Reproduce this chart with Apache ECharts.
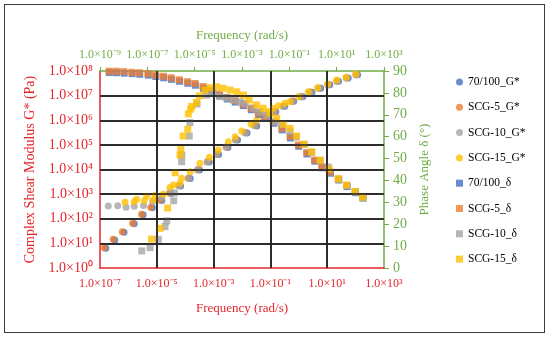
<!DOCTYPE html>
<html><head><meta charset="utf-8">
<script src="https://cdn.jsdelivr.net/npm/echarts@6/dist/echarts.min.js"></script>
<style>html,body{margin:0;padding:0;background:#fff}#wrap{position:relative;width:550px;height:340px}#c{width:550px;height:340px}#frame{position:absolute;left:4px;top:4px;width:539px;height:327px;border:1.5px solid #3c3c3c;pointer-events:none}</style>
</head><body><div id="wrap"><div id="c"></div><div id="frame"></div></div>
<script>
// ---- tick labels ----
const bottomTickExp = [-7, -5, -3, -1, 1, 3];
const bottomTickLabels = ['1.0×10⁻⁷', '1.0×10⁻⁵', '1.0×10⁻³', '1.0×10⁻¹', '1.0×10¹', '1.0×10³'];
const topTickExp = [-9, -7, -5, -3, -1, 1, 3];
const topTickLabels = ['1.0×10⁻⁹', '1.0×10⁻⁷', '1.0×10⁻⁵', '1.0×10⁻³', '1.0×10⁻¹', '1.0×10¹', '1.0×10³'];
const leftTickExp = [0, 1, 2, 3, 4, 5, 6, 7, 8];
const leftTickLabels = ['1.0×10⁰', '1.0×10¹', '1.0×10²', '1.0×10³', '1.0×10⁴', '1.0×10⁵', '1.0×10⁶', '1.0×10⁷', '1.0×10⁸'];
// gridline positions (exponents of the bottom / left axes)
const gridXExp = [-5, -3, -1, 1];
const gridYExp = [1, 2, 3, 4, 5, 6, 7];

// ---- series names ----
const seriesNames = ['70/100_G*', 'SCG-5_G*', 'SCG-10_G*', 'SCG-15_G*', '70/100_δ', 'SCG-5_δ', 'SCG-10_δ', 'SCG-15_δ'];

// ---- G* data (frequency rad/s, G* Pa) ----
const freqG_70100 = [1.6e-7, 3.3e-7, 7.0e-7, 1.6e-6, 3.3e-6, 7.0e-6, 1.5e-5, 3.2e-5, 6.9e-5, 1.5e-4, 3.2e-4, 7.0e-4, 1.5e-3, 3.2e-3, 7.0e-3, 1.5e-2, 3.3e-2, 7.1e-2, 0.155, 0.32, 0.66, 1.38, 2.9, 5.9, 12.3, 25, 55, 118];
const G_70100 = [6.4, 13.8, 28.5, 62, 145, 280, 550, 1060, 2150, 4350, 9600, 20300, 41000, 79000, 159000, 306000, 590000, 1.18e6, 2.19e6, 3.66e6, 5.85e6, 8.9e6, 1.36e7, 1.98e7, 2.75e7, 3.82e7, 5.15e7, 7.0e7];

const freqG_SCG5 = [1.4e-7, 2.9e-7, 6.1e-7, 1.4e-6, 2.9e-6, 6.1e-6, 1.3e-5, 2.8e-5, 6.0e-5, 1.3e-4, 2.8e-4, 6.1e-4, 1.3e-3, 2.8e-3, 6.1e-3, 1.3e-2, 2.9e-2, 6.2e-2, 0.135, 0.28, 0.58, 1.2, 2.5, 5.1, 10.7, 22, 48, 103];
const G_SCG5 = [6.7, 14.6, 29.8, 65, 152, 292, 577, 1110, 2240, 4520, 10000, 21100, 42600, 82000, 165000, 318000, 612000, 1.23e6, 2.27e6, 3.79e6, 6.05e6, 9.2e6, 1.40e7, 2.04e7, 2.83e7, 3.93e7, 5.3e7, 7.2e7];

const freqG_SCG10 = [1.95e-7, 4.2e-7, 8.3e-7, 1.6e-6, 3.4e-6, 7.1e-6, 1.5e-5, 3.0e-5, 6.3e-5, 1.3e-4, 2.7e-4, 5.9e-4, 1.26e-3, 2.75e-3, 5.9e-3, 1.3e-2, 2.75e-2, 6.0e-2, 0.13, 0.28, 0.58, 1.2, 2.5, 5.1, 10.7, 22, 48, 103];
const G_SCG10 = [330, 339, 292, 320, 345, 492, 743, 1160, 2140, 4310, 9550, 20200, 40600, 82000, 158000, 303000, 612000, 1.18e6, 2.16e6, 3.62e6, 5.77e6, 8.8e6, 1.34e7, 1.95e7, 2.7e7, 3.75e7, 5.06e7, 6.9e7];

const freqG_SCG15 = [7.6e-7, 1.6e-6, 1.95e-6, 3.6e-6, 4.4e-6, 7.5e-6, 8.7e-6, 1.7e-5, 2.9e-5, 3.8e-5, 6.6e-5, 7.5e-5, 1.5e-4, 3.3e-4, 7.1e-4, 1.46e-3, 3.3e-3, 5.7e-3, 9.8e-3, 2.1e-2, 3.3e-2, 5.6e-2, 8.4e-2, 0.126, 0.19, 0.32, 0.49, 0.96, 2.16, 4.6, 10.4, 21.6, 46, 103];
const G_SCG15 = [466, 492, 617, 541, 816, 577, 896, 984, 1860, 2350, 2830, 4390, 8140, 17900, 31300, 61900, 135000, 215000, 366000, 685000, 1.02e6, 1.63e6, 2.22e6, 3.06e6, 3.9e6, 4.88e6, 5.66e6, 9.04e6, 1.44e7, 2.1e7, 2.97e7, 4.31e7, 5.55e7, 7.55e7];

// ---- phase angle data (frequency rad/s on top axis, degrees) ----
const freqD_70100 = [2.5e-9, 5.0e-9, 1.05e-8, 2.3e-8, 4.8e-8, 1.1e-7, 2.3e-7, 4.9e-7, 1.05e-6, 2.3e-6, 5.1e-6, 1.07e-5, 2.35e-5, 5.1e-5, 1.12e-4, 2.45e-4, 5.2e-4, 1.15e-3, 2.5e-3, 5.1e-3, 9.7e-3, 2.2e-2, 5.0e-2, 0.112, 0.25, 0.56, 1.2, 2.45, 5.5, 12.2, 27.5, 63, 130];
const D_70100 = [89.3, 89.2, 89.0, 88.8, 88.5, 88.1, 87.5, 86.9, 86.2, 85.3, 84.4, 83.5, 82.1, 80.5, 78.8, 77.2, 75.8, 74.2, 72.3, 70.2, 68.4, 66.1, 63.1, 59.4, 55.6, 52.1, 48.8, 45.8, 43.3, 40.2, 37.2, 34.4, 31.9];

const freqD_SCG5 = [2.4e-9, 4.8e-9, 1.0e-8, 2.2e-8, 4.6e-8, 1.05e-7, 2.2e-7, 4.7e-7, 1.0e-6, 2.2e-6, 4.9e-6, 1.02e-5, 2.24e-5, 4.9e-5, 1.07e-4, 2.34e-4, 5.0e-4, 1.1e-3, 2.4e-3, 4.9e-3, 9.3e-3, 2.1e-2, 4.8e-2, 0.107, 0.24, 0.54, 1.15, 2.34, 5.25, 11.7, 26.3, 60.3, 126];
const D_SCG5 = [89.9, 89.9, 89.7, 89.4, 89.2, 88.8, 88.2, 87.6, 86.9, 86.0, 85.1, 84.3, 82.9, 81.3, 79.5, 77.9, 76.5, 74.9, 73.0, 70.9, 69.1, 66.8, 63.8, 60.1, 56.2, 52.7, 49.3, 46.3, 43.9, 40.7, 37.7, 34.9, 32.3];

const freqD_SCG10 = [5.8e-8, 1.3e-7, 2.9e-7, 5.6e-7, 6.6e-7, 1.3e-6, 1.4e-6, 2.8e-6, 2.9e-6, 5.9e-6, 6.3e-6, 1.26e-5, 3.2e-5, 6.1e-5, 1.17e-4, 2.2e-4, 4.3e-4, 8.3e-4, 1.34e-3, 3.0e-3, 5.8e-3, 1.1e-2, 2.45e-2, 4.8e-2, 0.107, 0.20, 0.42, 0.88, 2.0, 4.4, 12.2, 27, 62, 130];
const D_SCG10 = [7.8, 9.3, 13.1, 18.9, 21.5, 30.7, 34.3, 48.6, 51.6, 60.3, 66.4, 74.9, 79.0, 79.8, 78.3, 77.8, 76.8, 76.0, 75.2, 73.0, 71.4, 69.6, 66.8, 65.6, 62.3, 59.8, 56.4, 52.8, 49.1, 46.1, 40.4, 37.7, 34.7, 32.2];

const freqD_SCG15 = [1.5e-7, 3.5e-7, 7.2e-7, 1.5e-6, 2.4e-6, 2.6e-6, 3.3e-6, 5.1e-6, 5.4e-6, 6.8e-6, 7.5e-6, 1.2e-5, 1.6e-5, 2.7e-5, 4.5e-5, 8.5e-5, 1.6e-4, 3.1e-4, 6.0e-4, 1.15e-3, 2.0e-3, 4.1e-3, 7.9e-3, 1.5e-2, 2.9e-2, 5.6e-2, 0.107, 0.20, 0.42, 0.88, 2.0, 4.8, 11.7, 26, 60, 126];
const D_SCG15 = [13.2, 18.1, 27.4, 43.5, 51.6, 54.2, 60.3, 63.4, 70.4, 72.6, 73.8, 75.6, 78.6, 81.3, 82.4, 82.8, 82.1, 81.3, 80.5, 79.0, 76.8, 74.5, 73.0, 70.7, 68.5, 65.6, 63.8, 60.3, 56.6, 53.1, 49.3, 45.2, 40.7, 37.9, 34.9, 32.3];

// ---- build ----
const COLORS = ['#4472C4', '#ED7D31', '#A5A5A5', '#FFC000'];
const RED = '#E3262B', GREEN = '#70AD47';
const FONT = '"Liberation Serif", "Times New Roman", serif';
const K = '#1f1f1f', T = 'rgba(0,0,0,0)';

const gSets = [[freqG_70100, G_70100], [freqG_SCG5, G_SCG5], [freqG_SCG10, G_SCG10], [freqG_SCG15, G_SCG15]];
const dSets = [[freqD_70100, D_70100], [freqD_SCG5, D_SCG5], [freqD_SCG10, D_SCG10], [freqD_SCG15, D_SCG15]];

const series = [{
  name: 'grid', type: 'scatter', xAxisIndex: 0, yAxisIndex: 0, z: 1, silent: true, data: [],
  markLine: {
    silent: true, animation: false, symbol: ['none', 'none'], label: { show: false },
    lineStyle: { type: 'solid', color: K, width: 1.5 },
    emphasis: { disabled: true },
    data: gridYExp.map(v => ({ yAxis: v })).concat(gridXExp.map(v => ({ xAxis: v })))
  }
}];
gSets.forEach((s, i) => series.push({
  name: seriesNames[i], type: 'scatter', xAxisIndex: 0, yAxisIndex: 0, z: 3,
  symbol: 'circle', symbolSize: 7, itemStyle: { color: COLORS[i] },
  data: s[0].map((f, k) => [Math.log10(f), Math.log10(s[1][k])])
}));
dSets.forEach((s, i) => series.push({
  name: seriesNames[4 + i], type: 'scatter', xAxisIndex: 1, yAxisIndex: 1, z: 3,
  symbol: 'rect', symbolSize: 7, itemStyle: { color: COLORS[i] },
  data: s[0].map((f, k) => [Math.log10(f), s[1][k]])
}));

const fmt = (exps, labels) => v => { const i = exps.indexOf(Math.round(v)); return i >= 0 ? labels[i] : ''; };

const option = {
  animation: false,
  grid: { left: 100, right: 166, top: 71, bottom: 72 },
  xAxis: [
    { type: 'value', min: -7, max: 3, interval: 2,
      axisLine: { show: true, onZero: false, lineStyle: { color: RED, width: 1.5 } },
      axisTick: { show: false },
      axisLabel: { color: RED, fontSize: 12, margin: 10, fontFamily: FONT, formatter: fmt(bottomTickExp, bottomTickLabels) },
      splitLine: { show: true, showMinLine: false, showMaxLine: false, lineStyle: { color: K, width: 1.5 } },
      name: 'Frequency (rad/s)', nameLocation: 'middle', nameGap: 34,
      nameTextStyle: { color: RED, fontSize: 13, fontFamily: FONT } },
    { type: 'value', position: 'top', min: -9, max: 3, interval: 2,
      axisLine: { show: true, onZero: false, lineStyle: { color: GREEN, width: 1.5 } },
      axisTick: { show: true, inside: false, length: 4, lineStyle: { color: GREEN, width: 1 } },
      axisLabel: { color: GREEN, fontSize: 12, margin: 10, fontFamily: FONT, formatter: fmt(topTickExp, topTickLabels) },
      splitLine: { show: true, lineStyle: { color: T, width: 0 } },
      name: 'Frequency (rad/s)', nameLocation: 'middle', nameGap: 29,
      nameTextStyle: { color: GREEN, fontSize: 13, fontFamily: FONT } }
  ],
  yAxis: [
    { type: 'value', min: 0, max: 8, interval: 1,
      axisLine: { show: true, onZero: false, lineStyle: { color: RED, width: 1.5 } },
      axisTick: { show: false },
      axisLabel: { color: RED, fontSize: 14, margin: 7, fontFamily: FONT, formatter: fmt(leftTickExp, leftTickLabels) },
      splitLine: { show: true, showMinLine: false, showMaxLine: false, lineStyle: { color: K, width: 1.5 } },
      name: 'Complex Shear Modulus G* (Pa)', nameLocation: 'middle', nameGap: 60, nameRotate: 90,
      nameTextStyle: { color: RED, fontSize: 14, fontFamily: FONT } },
    { type: 'value', min: 0, max: 90, interval: 10,
      axisLine: { show: true, onZero: false, lineStyle: { color: GREEN, width: 1.5 } },
      axisTick: { show: true, inside: false, length: 5, lineStyle: { color: GREEN, width: 1 } },
      axisLabel: { color: GREEN, fontSize: 14, margin: 9, fontFamily: FONT },
      splitLine: { show: true, lineStyle: { color: T, width: 0 } },
      name: 'Phase Angle δ (°)', nameLocation: 'middle', nameGap: 33, nameRotate: 90,
      nameTextStyle: { color: GREEN, fontSize: 13, fontFamily: FONT } }
  ],
  legend: {
    orient: 'vertical', left: 451, top: 70, itemWidth: 7, itemHeight: 7, itemGap: 11.3,
    textStyle: { fontSize: 11.5, color: '#000', lineHeight: 14, fontFamily: FONT },
    data: seriesNames.map((n, i) => ({ name: n, icon: i < 4 ? 'circle' : 'rect' }))
  },
  series: series
};
const chart = echarts.init(document.getElementById('c'), null, { renderer: 'canvas' });
chart.setOption(option);
</script></body></html>
